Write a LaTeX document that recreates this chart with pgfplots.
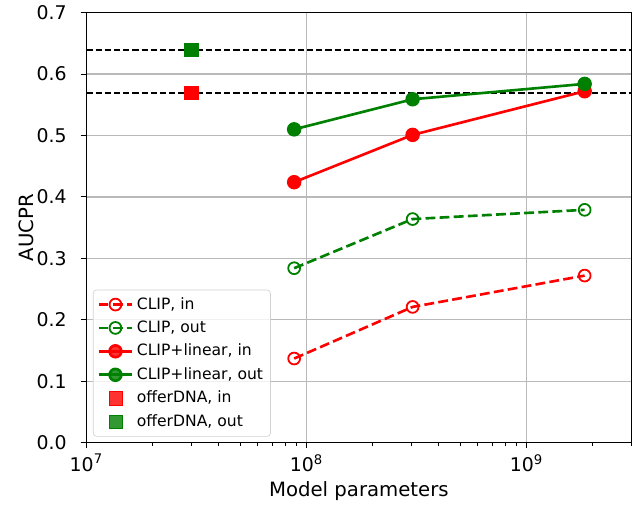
\documentclass[border=0pt]{standalone}
\usepackage{fontspec}
\setmainfont{DejaVu Sans}
\usepackage{pgfplots}
\pgfplotsset{compat=1.18}
\definecolor{mplgreen}{rgb}{0,0.5,0}
\begin{document}
\begin{tikzpicture}
\begin{axis}[
  scale only axis,
  width=332pt, height=262pt,
  xmode=log,
  xmin=1e7, xmax=3e9,
  ymin=0, ymax=0.7,
  xtick={1e7,1e8,1e9},
  xticklabels={10\textsuperscript{7},10\textsuperscript{8},10\textsuperscript{9}},
  minor xtick={2e7,3e7,4e7,5e7,6e7,7e7,8e7,9e7,2e8,3e8,4e8,5e8,6e8,7e8,8e8,9e8,2e9,3e9},
  ytick={0,0.1,0.2,0.3,0.4,0.5,0.6,0.7},
  yticklabel style={/pgf/number format/fixed,/pgf/number format/precision=1,/pgf/number format/fixed zerofill, xshift=-5pt},
  /pgf/number format/assume math mode=true,
  tick label style={font=\fontsize{11.5}{13}\selectfont},
  tick align=outside,
  tick pos=left,
  major tick length=3.5pt,
  minor tick length=2pt,
  every tick/.style={black, line width=0.6pt},
  axis line style={line width=0.8pt},
  grid=major,
  major grid style={gray!55, line width=0.8pt},
  xlabel={Model parameters},
  ylabel={AUCPR},
  label style={font=\fontsize{12}{14}\selectfont},
  xlabel style={yshift=1pt},
  ylabel style={yshift=-5pt},
  legend image code/.code={\draw[mark repeat=2,mark phase=2] plot coordinates {(0cm,0cm) (0.36cm,0cm) (0.72cm,0cm)};},
  legend style={at={(0.012,0.014)}, anchor=south west, draw=gray!35, rounded corners=2pt,
    fill=white, fill opacity=0.8, text opacity=1, font=\fontsize{9.5}{11}\selectfont,
    row sep=1.6pt, inner sep=2.5pt},
  legend cell align=left,
]
\addplot[black, line width=1.1pt, dash pattern=on 3.8pt off 1.8pt, forget plot] coordinates {(1e7,0.569) (3e9,0.569)};
\addplot[black, line width=1.1pt, dash pattern=on 3.8pt off 1.8pt, forget plot] coordinates {(1e7,0.639) (3e9,0.639)};

\addplot[red, line width=1.6pt, dash pattern=on 6pt off 2.6pt, mark=o, mark size=3.6pt, mark options={solid, line width=1.1pt}] coordinates {
(8.8e7,0.137) (3.04e8,0.221) (1.84e9,0.272)};
\addlegendentry{CLIP, in}
\addplot[mplgreen, line width=1.6pt, dash pattern=on 6pt off 2.6pt, mark=o, mark size=3.6pt, mark options={solid, line width=1.1pt}] coordinates {
(8.8e7,0.284) (3.04e8,0.364) (1.84e9,0.379)};
\addlegendentry{CLIP, out}
\addplot[red, line width=1.6pt, mark=*, mark size=3.6pt, mark options={solid}] coordinates {
(8.8e7,0.424) (3.04e8,0.501) (1.84e9,0.572)};
\addlegendentry{CLIP+linear, in}
\addplot[mplgreen, line width=1.6pt, mark=*, mark size=3.6pt, mark options={solid}] coordinates {
(8.8e7,0.510) (3.04e8,0.559) (1.84e9,0.584)};
\addlegendentry{CLIP+linear, out}
\addplot[only marks, mark=square*, mark size=4pt, red] coordinates {(3e7,0.569)};
\addlegendentry{offerDNA, in}
\addplot[only marks, mark=square*, mark size=4pt, mplgreen] coordinates {(3e7,0.639)};
\addlegendentry{offerDNA, out}
\end{axis}
\path (current bounding box.south west) ++(-8pt,0pt);
\end{tikzpicture}
\end{document}
